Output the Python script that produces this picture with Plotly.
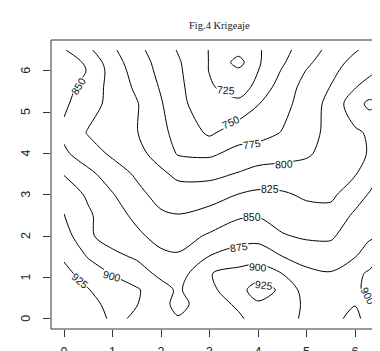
import plotly.graph_objects as go

# Kriging grid (coordinates) and estimated values
grid_x = [0, 0.5, 1.0, 1.5, 2.0, 2.35, 3.0, 3.6, 4.0, 4.5, 5.0, 5.5, 6.0, 6.3, 6.5]
grid_y = [0, 0.35, 0.7, 1.1, 1.5, 2.0, 2.5, 3.0, 3.5, 4.0, 4.5, 5.2, 5.6, 6.0, 6.2, 6.5]
krig_z = [
    [942, 935, 922, 885, 880, 877, 885, 896, 910, 908, 896, 885, 865, 890.5, 907],
    [940, 933.3, 917.3, 901.3, 882.8, 868, 887.8, 904, 922, 912, 896, 880, 876.3, 894, 905],
    [938, 926, 913.5, 903, 882.8, 872, 893.4, 917.4, 935, 921, 888, 884, 896, 905, 910],
    [932, 913.8, 898.1, 884.3, 869.8, 862.3, 899, 908, 913.6, 899.5, 881, 876.5, 895, 903, 906],
    [921.8, 898.4, 880.3, 872.4, 855.9, 853, 876, 886.6, 889, 875.5, 865.2, 862.7, 874.2, 889.6, 899.6],
    [911.8, 878, 866.5, 855, 841.5, 839.6, 853.3, 864.6, 866.9, 852, 846.7, 846.5, 864.2, 871, 874],
    [901, 878.6, 860.6, 844.3, 828.7, 826, 834, 846.7, 848.5, 840.4, 833.9, 834.2, 854, 861.8, 866.8],
    [889, 871.4, 851.6, 832.3, 816.3, 811.2, 814.3, 826, 830, 828.4, 821.4, 820, 839.6, 852, 857.7],
    [874, 856, 838.4, 821.3, 804.7, 794.7, 793.4, 801.9, 809.7, 810, 809.5, 815, 823.5, 838.6, 849],
    [854, 836.9, 820.5, 807.4, 789.8, 773, 770.7, 782.5, 786.2, 791.8, 797, 808.4, 819.5, 826.5, 830],
    [845, 823, 812.6, 801, 781, 767.6, 746, 764, 766.1, 776.2, 791.5, 806.5, 821.2, 828, 832],
    [854.2, 835, 817.5, 801.9, 777.1, 757.8, 733, 732, 749, 767, 786.1, 807.7, 840, 856, 848],
    [860, 839.2, 816.7, 795.5, 772.6, 756.1, 728.3, 712, 733.1, 761.9, 783.4, 800.9, 824, 833, 838],
    [860, 849, 814, 790, 768.3, 754.4, 724, 705, 724.5, 752, 776, 794.4, 811, 820.6, 826],
    [862, 846, 810, 788, 766, 753, 724, 691, 722, 747, 770, 790, 807, 816, 822],
    [852, 830, 804, 782, 762, 748.5, 724, 709, 722, 742, 763, 782, 798, 806, 811],
]
level_start, level_end, level_step = 700, 925, 25
tick_vals = [0, 1, 2, 3, 4, 5, 6]
tick_text = ["0", "1", "2", "3", "4", "5", "6"]

# contour labels (text, x, y, angle) as placed in the original
contour_labels = [
    ("850", 0.29, 5.64, -58), ("725", 3.34, 5.53, 4), ("750", 3.44, 4.75, -25),
    ("775", 3.88, 4.22, -8), ("800", 4.54, 3.74, -3), ("825", 4.25, 3.14, 0),
    ("850", 3.88, 2.47, 0), ("875", 3.61, 1.73, -8), ("900", 4.0, 1.26, 4),
    ("925", 4.12, 0.82, 8), ("900", 0.99, 1.03, 15), ("925", 0.34, 0.91, 40),
    ("900", 6.27, 0.55, 62),
]

fig = go.Figure()
fig.add_trace(go.Contour(
    x=grid_x, y=grid_y, z=krig_z,
    contours=dict(coloring='none', start=level_start, end=level_end,
                  size=level_step, showlabels=False),
    line=dict(color='black', width=1, smoothing=0.9),
    showscale=False, hoverinfo='skip'))

for txt, lx, ly, ang in contour_labels:
    fig.add_annotation(x=lx, y=ly, xref='x', yref='y', text=txt, showarrow=False,
                       textangle=ang, bgcolor='white', borderpad=0,
                       font=dict(family='Liberation Sans', size=10.5, color='#111'))

# rotated y tick labels (R style, reading upward)
for tv, tt in zip(tick_vals, tick_text):
    fig.add_annotation(x=0, xref='paper', y=tv, yref='y', text=tt, showarrow=False,
                       textangle=-90, xanchor='center', yanchor='middle', xshift=-25,
                       font=dict(family='Liberation Sans', size=12.5, color='#222'))

fig.add_annotation(x=0.5, y=1.05, xref='paper', yref='paper', text='Fig.4 Krigeaje',
                   showarrow=False, yanchor='middle',
                   font=dict(family='Liberation Serif', size=10.5, color='#222'))

fig.add_shape(type='rect', xref='paper', yref='paper', x0=0, x1=1.03, y0=0, y1=1,
              line=dict(color='#333', width=1), layer='above')

fig.update_layout(
    width=380, height=351,
    margin=dict(l=43, r=0, t=32, b=28),
    paper_bgcolor='white', plot_bgcolor='white',
    showlegend=False,
    xaxis=dict(range=[-0.268, 6.68], tickvals=tick_vals, ticktext=tick_text,
               ticks='outside', ticklen=7,
               tickcolor='#333', showgrid=False, zeroline=False, showline=False,
               ticklabelstandoff=4,
               tickfont=dict(family='Liberation Sans', size=12.5, color='#222')),
    yaxis=dict(range=[-0.247, 6.744], tickvals=tick_vals, ticks='outside', ticklen=7,
               tickcolor='#333', showgrid=False, zeroline=False, showline=False,
               showticklabels=False),
)

fig.write_html("out.html")
